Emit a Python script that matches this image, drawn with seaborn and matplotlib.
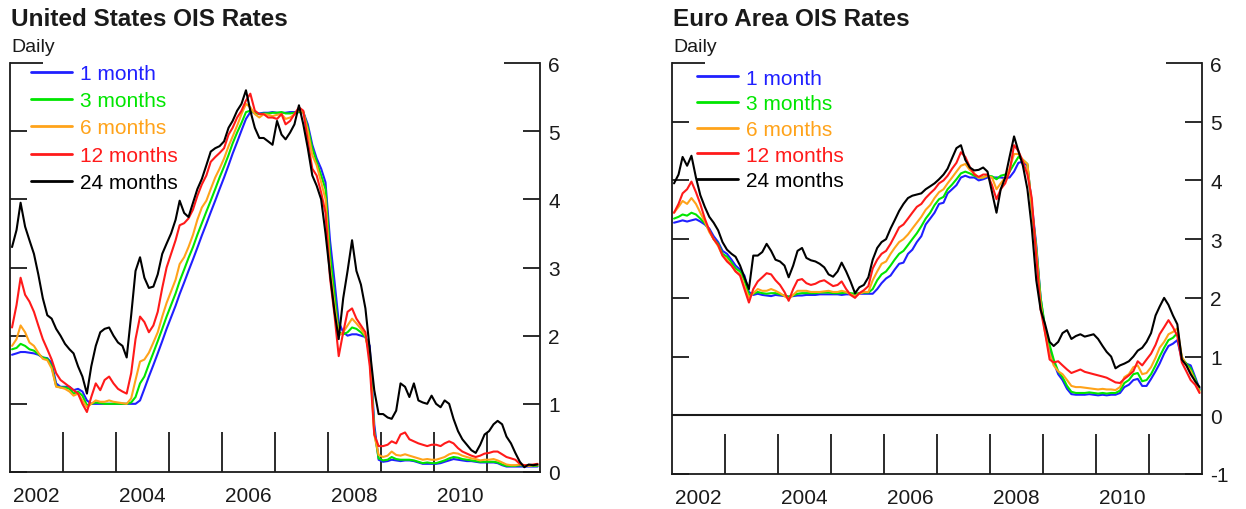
import matplotlib

matplotlib.use("Agg")

import matplotlib.dates as mdates
import matplotlib.pyplot as plt
import pandas as pd
import seaborn as sns
from matplotlib.lines import Line2D
from matplotlib.ticker import NullFormatter


# Monthly readings, Jan 2002 - Dec 2011 (one row per year)
US_1M = [
    1.72, 1.74, 1.76, 1.76, 1.75, 1.74, 1.72, 1.68, 1.67, 1.60, 1.30, 1.25,
    1.25, 1.25, 1.20, 1.22, 1.18, 1.05, 1.00, 1.00, 1.00, 1.00, 1.00, 1.00,
    1.00, 1.00, 1.00, 1.00, 1.00, 1.05, 1.22, 1.40, 1.57, 1.74, 1.92, 2.10,
    2.27, 2.44, 2.61, 2.78, 2.95, 3.12, 3.29, 3.47, 3.64, 3.81, 3.98, 4.15,
    4.32, 4.50, 4.67, 4.84, 5.01, 5.18, 5.28, 5.27, 5.26, 5.27, 5.27, 5.28,
    5.27, 5.27, 5.27, 5.28, 5.28, 5.28, 5.28, 5.10, 4.80, 4.60, 4.45, 4.25,
    3.40, 2.80, 2.20, 2.05, 2.00, 2.02, 2.02, 2.00, 1.98, 1.85, 0.70, 0.18,
    0.15, 0.16, 0.18, 0.17, 0.16, 0.17, 0.17, 0.16, 0.14, 0.12, 0.12, 0.12,
    0.12, 0.13, 0.15, 0.17, 0.19, 0.18, 0.17, 0.16, 0.16, 0.15, 0.14, 0.14,
    0.14, 0.14, 0.13, 0.10, 0.08, 0.08, 0.08, 0.08, 0.08, 0.08, 0.08, 0.08,
]
US_3M = [
    1.80, 1.82, 1.88, 1.85, 1.80, 1.78, 1.73, 1.68, 1.66, 1.55, 1.26, 1.24,
    1.24, 1.22, 1.15, 1.18, 1.12, 0.98, 1.00, 1.02, 1.01, 1.00, 1.00, 1.00,
    1.00, 1.00, 1.00, 1.02, 1.10, 1.30, 1.40, 1.58, 1.75, 1.92, 2.10, 2.28,
    2.45, 2.62, 2.80, 2.97, 3.14, 3.30, 3.48, 3.65, 3.82, 3.98, 4.15, 4.32,
    4.48, 4.65, 4.82, 4.98, 5.12, 5.28, 5.30, 5.27, 5.25, 5.26, 5.26, 5.27,
    5.27, 5.28, 5.26, 5.26, 5.27, 5.28, 5.28, 5.05, 4.75, 4.55, 4.35, 4.15,
    3.20, 2.60, 2.05, 2.02, 2.05, 2.12, 2.10, 2.05, 1.98, 1.75, 0.60, 0.20,
    0.17, 0.18, 0.22, 0.19, 0.18, 0.18, 0.18, 0.17, 0.15, 0.13, 0.14, 0.13,
    0.13, 0.15, 0.17, 0.20, 0.22, 0.21, 0.19, 0.18, 0.17, 0.16, 0.15, 0.15,
    0.15, 0.15, 0.14, 0.11, 0.09, 0.09, 0.09, 0.10, 0.09, 0.09, 0.09, 0.09,
]
US_6M = [
    1.85, 1.95, 2.15, 2.05, 1.90, 1.85, 1.75, 1.66, 1.64, 1.52, 1.25, 1.24,
    1.22, 1.18, 1.12, 1.15, 1.05, 0.95, 1.00, 1.05, 1.03, 1.03, 1.05, 1.03,
    1.02, 1.01, 1.00, 1.08, 1.35, 1.62, 1.65, 1.75, 1.90, 2.05, 2.28, 2.48,
    2.65, 2.82, 3.05, 3.15, 3.30, 3.48, 3.70, 3.88, 3.98, 4.15, 4.32, 4.45,
    4.60, 4.78, 4.92, 5.08, 5.25, 5.40, 5.35, 5.25, 5.20, 5.25, 5.24, 5.22,
    5.24, 5.25, 5.18, 5.20, 5.25, 5.30, 5.28, 5.00, 4.65, 4.50, 4.25, 4.00,
    3.00, 2.45, 2.00, 2.05, 2.15, 2.25, 2.18, 2.10, 2.00, 1.70, 0.55, 0.25,
    0.22, 0.24, 0.30, 0.25, 0.24, 0.26, 0.24, 0.22, 0.20, 0.18, 0.19, 0.18,
    0.18, 0.20, 0.22, 0.26, 0.28, 0.27, 0.24, 0.22, 0.20, 0.19, 0.17, 0.18,
    0.18, 0.19, 0.17, 0.14, 0.11, 0.10, 0.10, 0.11, 0.10, 0.09, 0.10, 0.10,
]
US_12M = [
    2.12, 2.45, 2.85, 2.60, 2.50, 2.35, 2.15, 1.95, 1.80, 1.65, 1.45, 1.35,
    1.30, 1.25, 1.20, 1.15, 1.00, 0.88, 1.10, 1.30, 1.20, 1.35, 1.40, 1.30,
    1.22, 1.18, 1.15, 1.45, 1.95, 2.28, 2.20, 2.05, 2.15, 2.35, 2.70, 3.00,
    3.20, 3.40, 3.62, 3.65, 3.72, 3.85, 4.05, 4.22, 4.35, 4.55, 4.62, 4.68,
    4.75, 4.95, 5.05, 5.20, 5.30, 5.45, 5.55, 5.30, 5.25, 5.25, 5.20, 5.20,
    5.18, 5.25, 5.10, 5.15, 5.25, 5.35, 5.30, 4.85, 4.45, 4.35, 4.10, 3.80,
    2.85, 2.30, 1.70, 2.05, 2.35, 2.40, 2.25, 2.15, 2.05, 1.55, 0.55, 0.38,
    0.38, 0.40, 0.45, 0.42, 0.55, 0.58, 0.48, 0.45, 0.42, 0.40, 0.38, 0.40,
    0.40, 0.38, 0.42, 0.45, 0.42, 0.35, 0.30, 0.27, 0.24, 0.22, 0.24, 0.27,
    0.28, 0.30, 0.30, 0.26, 0.22, 0.20, 0.18, 0.12, 0.10, 0.10, 0.11, 0.12,
]
US_24M = [
    3.30, 3.55, 3.95, 3.60, 3.40, 3.20, 2.90, 2.55, 2.30, 2.25, 2.10, 2.00,
    1.88, 1.80, 1.74, 1.55, 1.40, 1.15, 1.55, 1.85, 2.05, 2.10, 2.12, 2.00,
    1.90, 1.85, 1.68, 2.30, 2.95, 3.15, 2.85, 2.70, 2.72, 2.90, 3.20, 3.35,
    3.50, 3.70, 3.98, 3.80, 3.74, 3.95, 4.15, 4.30, 4.50, 4.70, 4.75, 4.78,
    4.85, 5.05, 5.15, 5.30, 5.40, 5.60, 5.30, 5.05, 4.90, 4.90, 4.85, 4.80,
    5.15, 4.95, 4.88, 4.98, 5.10, 5.38, 5.10, 4.75, 4.35, 4.20, 4.00, 3.50,
    2.90, 2.35, 1.95, 2.55, 2.95, 3.40, 2.95, 2.75, 2.40, 1.80, 1.20, 0.85,
    0.85, 0.80, 0.78, 0.90, 1.30, 1.25, 1.10, 1.30, 1.05, 1.02, 1.00, 1.12,
    1.00, 0.95, 1.05, 1.00, 0.78, 0.60, 0.48, 0.40, 0.32, 0.28, 0.40, 0.55,
    0.60, 0.70, 0.75, 0.70, 0.52, 0.42, 0.28, 0.15, 0.07, 0.11, 0.10, 0.11,
]

EA_1M = [
    3.28, 3.30, 3.32, 3.30, 3.32, 3.34, 3.30, 3.25, 3.18, 3.05, 2.95, 2.80,
    2.75, 2.65, 2.55, 2.48, 2.38, 2.10, 2.05, 2.07, 2.05, 2.04, 2.03, 2.05,
    2.04, 2.03, 2.02, 2.03, 2.04, 2.04, 2.05, 2.05, 2.05, 2.06, 2.06, 2.06,
    2.06, 2.06, 2.05, 2.06, 2.06, 2.06, 2.07, 2.07, 2.07, 2.07, 2.15, 2.25,
    2.33, 2.38, 2.48, 2.58, 2.60, 2.75, 2.82, 2.95, 3.05, 3.25, 3.35, 3.45,
    3.60, 3.62, 3.78, 3.85, 3.92, 4.05, 4.08, 4.05, 4.05, 4.00, 4.02, 4.05,
    4.05, 4.05, 4.05, 4.04, 4.05, 4.15, 4.30, 4.32, 4.25, 3.60, 2.90, 2.00,
    1.45, 1.15, 0.90, 0.70, 0.60, 0.45, 0.36, 0.35, 0.35, 0.35, 0.36, 0.35,
    0.34, 0.35, 0.34, 0.35, 0.35, 0.38, 0.48, 0.52, 0.60, 0.62, 0.50, 0.50,
    0.62, 0.75, 0.88, 1.05, 1.18, 1.22, 1.28, 0.95, 0.88, 0.85, 0.65, 0.45,
]
EA_3M = [
    3.35, 3.38, 3.42, 3.40, 3.45, 3.42, 3.35, 3.27, 3.15, 3.00, 2.92, 2.75,
    2.70, 2.60, 2.50, 2.45, 2.30, 2.05, 2.07, 2.10, 2.08, 2.07, 2.08, 2.08,
    2.06, 2.04, 2.02, 2.04, 2.07, 2.08, 2.08, 2.08, 2.08, 2.09, 2.09, 2.09,
    2.08, 2.08, 2.08, 2.09, 2.08, 2.07, 2.08, 2.09, 2.09, 2.15, 2.30, 2.40,
    2.45, 2.55, 2.65, 2.75, 2.80, 2.90, 3.00, 3.10, 3.22, 3.35, 3.45, 3.58,
    3.68, 3.72, 3.85, 3.93, 4.02, 4.12, 4.15, 4.12, 4.08, 4.05, 4.05, 4.08,
    4.07, 4.02, 4.08, 4.10, 4.15, 4.28, 4.40, 4.35, 4.28, 3.55, 2.85, 2.00,
    1.50, 1.20, 0.95, 0.75, 0.65, 0.50, 0.40, 0.38, 0.38, 0.38, 0.39, 0.38,
    0.37, 0.38, 0.37, 0.38, 0.38, 0.42, 0.55, 0.60, 0.70, 0.72, 0.58, 0.60,
    0.70, 0.85, 1.00, 1.15, 1.28, 1.32, 1.40, 0.98, 0.88, 0.80, 0.62, 0.43,
]
EA_6M = [
    3.45, 3.55, 3.65, 3.60, 3.70, 3.60, 3.45, 3.30, 3.12, 3.00, 2.88, 2.72,
    2.65, 2.55, 2.45, 2.40, 2.20, 2.00, 2.08, 2.15, 2.12, 2.12, 2.15, 2.12,
    2.08, 2.03, 1.98, 2.05, 2.12, 2.12, 2.12, 2.10, 2.10, 2.10, 2.11, 2.12,
    2.10, 2.10, 2.12, 2.10, 2.06, 2.03, 2.07, 2.10, 2.10, 2.30, 2.45, 2.58,
    2.62, 2.75, 2.85, 2.95, 3.00, 3.08, 3.18, 3.28, 3.38, 3.50, 3.58, 3.70,
    3.80, 3.85, 3.95, 4.05, 4.15, 4.25, 4.28, 4.18, 4.12, 4.05, 4.05, 4.08,
    4.05, 3.85, 3.95, 4.05, 4.20, 4.45, 4.45, 4.35, 4.28, 3.55, 2.80, 1.90,
    1.40, 1.05, 0.85, 0.75, 0.70, 0.60, 0.50, 0.48, 0.48, 0.47, 0.46, 0.45,
    0.44, 0.45, 0.44, 0.44, 0.43, 0.48, 0.65, 0.70, 0.82, 0.85, 0.70, 0.72,
    0.82, 0.98, 1.15, 1.25, 1.38, 1.42, 1.48, 1.00, 0.85, 0.75, 0.58, 0.40,
]
EA_12M = [
    3.45, 3.60, 3.78, 3.85, 3.98, 3.80, 3.60, 3.35, 3.15, 3.00, 2.90, 2.72,
    2.62, 2.55, 2.45, 2.38, 2.15, 1.92, 2.15, 2.28, 2.35, 2.42, 2.40, 2.30,
    2.22, 2.10, 1.95, 2.15, 2.30, 2.32, 2.25, 2.22, 2.24, 2.28, 2.30, 2.25,
    2.20, 2.22, 2.28, 2.15, 2.05, 2.00, 2.08, 2.13, 2.20, 2.50, 2.65, 2.75,
    2.80, 2.92, 3.05, 3.20, 3.25, 3.35, 3.45, 3.55, 3.60, 3.70, 3.78, 3.85,
    3.95, 4.00, 4.08, 4.20, 4.30, 4.48, 4.40, 4.23, 4.10, 4.06, 4.10, 4.10,
    3.92, 3.68, 3.85, 3.95, 4.15, 4.60, 4.50, 4.32, 4.10, 3.70, 2.70, 1.80,
    1.40, 0.95, 0.90, 0.92, 0.85, 0.78, 0.72, 0.75, 0.78, 0.74, 0.72, 0.70,
    0.68, 0.66, 0.64, 0.60, 0.56, 0.55, 0.62, 0.68, 0.75, 0.92, 0.85, 0.95,
    1.05, 1.20, 1.38, 1.50, 1.62, 1.50, 1.35, 0.90, 0.75, 0.60, 0.52, 0.38,
]
EA_24M = [
    3.95, 4.10, 4.40, 4.25, 4.42, 4.05, 3.75, 3.55, 3.38, 3.28, 3.15, 2.95,
    2.82, 2.75, 2.70, 2.55, 2.35, 2.15, 2.72, 2.72, 2.78, 2.92, 2.80, 2.65,
    2.62, 2.55, 2.35, 2.55, 2.80, 2.85, 2.68, 2.64, 2.62, 2.58, 2.52, 2.40,
    2.36, 2.45, 2.60, 2.45, 2.28, 2.08, 2.18, 2.22, 2.35, 2.65, 2.85, 2.95,
    3.00, 3.18, 3.32, 3.48, 3.60, 3.70, 3.74, 3.76, 3.78, 3.85, 3.90, 3.95,
    4.02, 4.10, 4.20, 4.38, 4.55, 4.60, 4.35, 4.22, 4.17, 4.18, 4.22, 4.15,
    3.80, 3.45, 3.85, 4.05, 4.40, 4.75, 4.50, 4.25, 3.85, 3.20, 2.30, 1.80,
    1.55, 1.25, 1.18, 1.25, 1.40, 1.45, 1.30, 1.35, 1.38, 1.34, 1.36, 1.38,
    1.30, 1.18, 1.08, 1.00, 0.80, 0.85, 0.88, 0.92, 1.00, 1.10, 1.15, 1.25,
    1.40, 1.70, 1.85, 2.00, 1.88, 1.70, 1.55, 0.95, 0.85, 0.70, 0.58, 0.48,
]

TENORS = ["1 month", "3 months", "6 months", "12 months", "24 months"]
COLORS = ["#2020ff", "#00e600", "#ffa31a", "#ff1a1a", "#000000"]
YEAR_LABELS = ["2002", "2004", "2006", "2008", "2010"]
US_YTICKS = [0, 1, 2, 3, 4, 5, 6]
EA_YTICKS = [-1, 0, 1, 2, 3, 4, 5, 6]

INK = "#1a1a1a"
W, H = 1246, 510


def build_frame(series):
    dates = pd.date_range("2002-01-01", periods=120, freq="MS") + pd.Timedelta(days=14)
    parts = [
        pd.DataFrame({"date": dates, "rate": values, "tenor": name})
        for name, values in zip(TENORS, series)
    ]
    return pd.concat(parts, ignore_index=True)


def draw_panel(ax, frame, yticks, title, zero_line, legend_anchor, spacing):
    sns.lineplot(
        data=frame, x="date", y="rate", hue="tenor", hue_order=TENORS,
        palette=COLORS, linewidth=1.5, legend=False, ax=ax,
    )
    if zero_line:
        ax.axhline(0, color=INK, linewidth=1.5, zorder=1)

    ax.set_xlim(mdates.date2num(pd.Timestamp("2002-01-01")),
                mdates.date2num(pd.Timestamp("2012-01-01")))
    ax.set_ylim(yticks[0], yticks[-1])
    ax.set_xlabel("")
    ax.set_ylabel("")

    for side in ["left", "right", "bottom"]:
        ax.spines[side].set_visible(True)
        ax.spines[side].set_color(INK)
        ax.spines[side].set_linewidth(1.3)
    ax.spines["top"].set_visible(False)

    # year boundaries as long inward ticks, labels centred mid-year
    year_starts = [mdates.date2num(pd.Timestamp(f"{y}-01-01")) for y in range(2003, 2012)]
    label_pos = [mdates.date2num(pd.Timestamp(f"{y}-07-01")) for y in YEAR_LABELS]
    ax.set_xticks(year_starts)
    ax.xaxis.set_major_formatter(NullFormatter())
    ax.set_xticks(label_pos, minor=True)
    ax.set_xticklabels(YEAR_LABELS, minor=True)
    ax.tick_params(axis="x", which="major", direction="in", length=29, width=1.3,
                   color=INK, bottom=True, top=False)
    ax.tick_params(axis="x", which="minor", bottom=True, length=0, pad=10,
                   labelsize=15, labelcolor=INK)

    ax.set_yticks(yticks)
    ax.set_yticklabels([str(t) for t in yticks])
    ax.tick_params(axis="y", direction="in", length=12, width=1.3, color=INK,
                   left=True, right=True, labelleft=False, labelright=True,
                   pad=6, labelsize=15, labelcolor=INK)
    top_tick = ax.yaxis.get_major_ticks()[-1]
    top_tick.tick1line.set_markersize(24)
    top_tick.tick2line.set_markersize(26)

    handles = [Line2D([], [], color=c, linewidth=2) for c in COLORS]
    ax.legend(handles, TENORS, loc="upper left", bbox_to_anchor=legend_anchor,
              frameon=False, fontsize=15, labelcolor=COLORS, handlelength=1.95,
              handletextpad=0.4, labelspacing=spacing, borderpad=0, borderaxespad=0)

    box = ax.get_position()
    fig = ax.figure
    fig.text(box.x0 + 1 / W, 1 - 26 / H, title, fontsize=17.5, fontweight="bold",
             color=INK, va="baseline", ha="left")
    fig.text(box.x0 + 1 / W, 1 - 52 / H, "Daily", fontsize=14, color=INK,
             va="baseline", ha="left")


def main() -> None:
    sns.set_style("white")
    plt.rcParams["font.family"] = ["Liberation Sans", "DejaVu Sans"]

    fig = plt.figure(figsize=(W / 100, H / 100), dpi=100)
    ax_us = fig.add_axes([10 / W, 1 - 473 / H, 530 / W, 409 / H])
    ax_ea = fig.add_axes([672 / W, 1 - 475 / H, 530 / W, 411 / H])

    us = build_frame([US_1M, US_3M, US_6M, US_12M, US_24M])
    ea = build_frame([EA_1M, EA_3M, EA_6M, EA_12M, EA_24M])

    draw_panel(ax_us, us, US_YTICKS, "United States OIS Rates", False, (0.04, 0.998), 0.4)
    draw_panel(ax_ea, ea, EA_YTICKS, "Euro Area OIS Rates", True, (0.048, 0.986), 0.32)

    fig.savefig("out.png", dpi=100, facecolor="white")
    plt.close(fig)


if __name__ == "__main__":
    main()
